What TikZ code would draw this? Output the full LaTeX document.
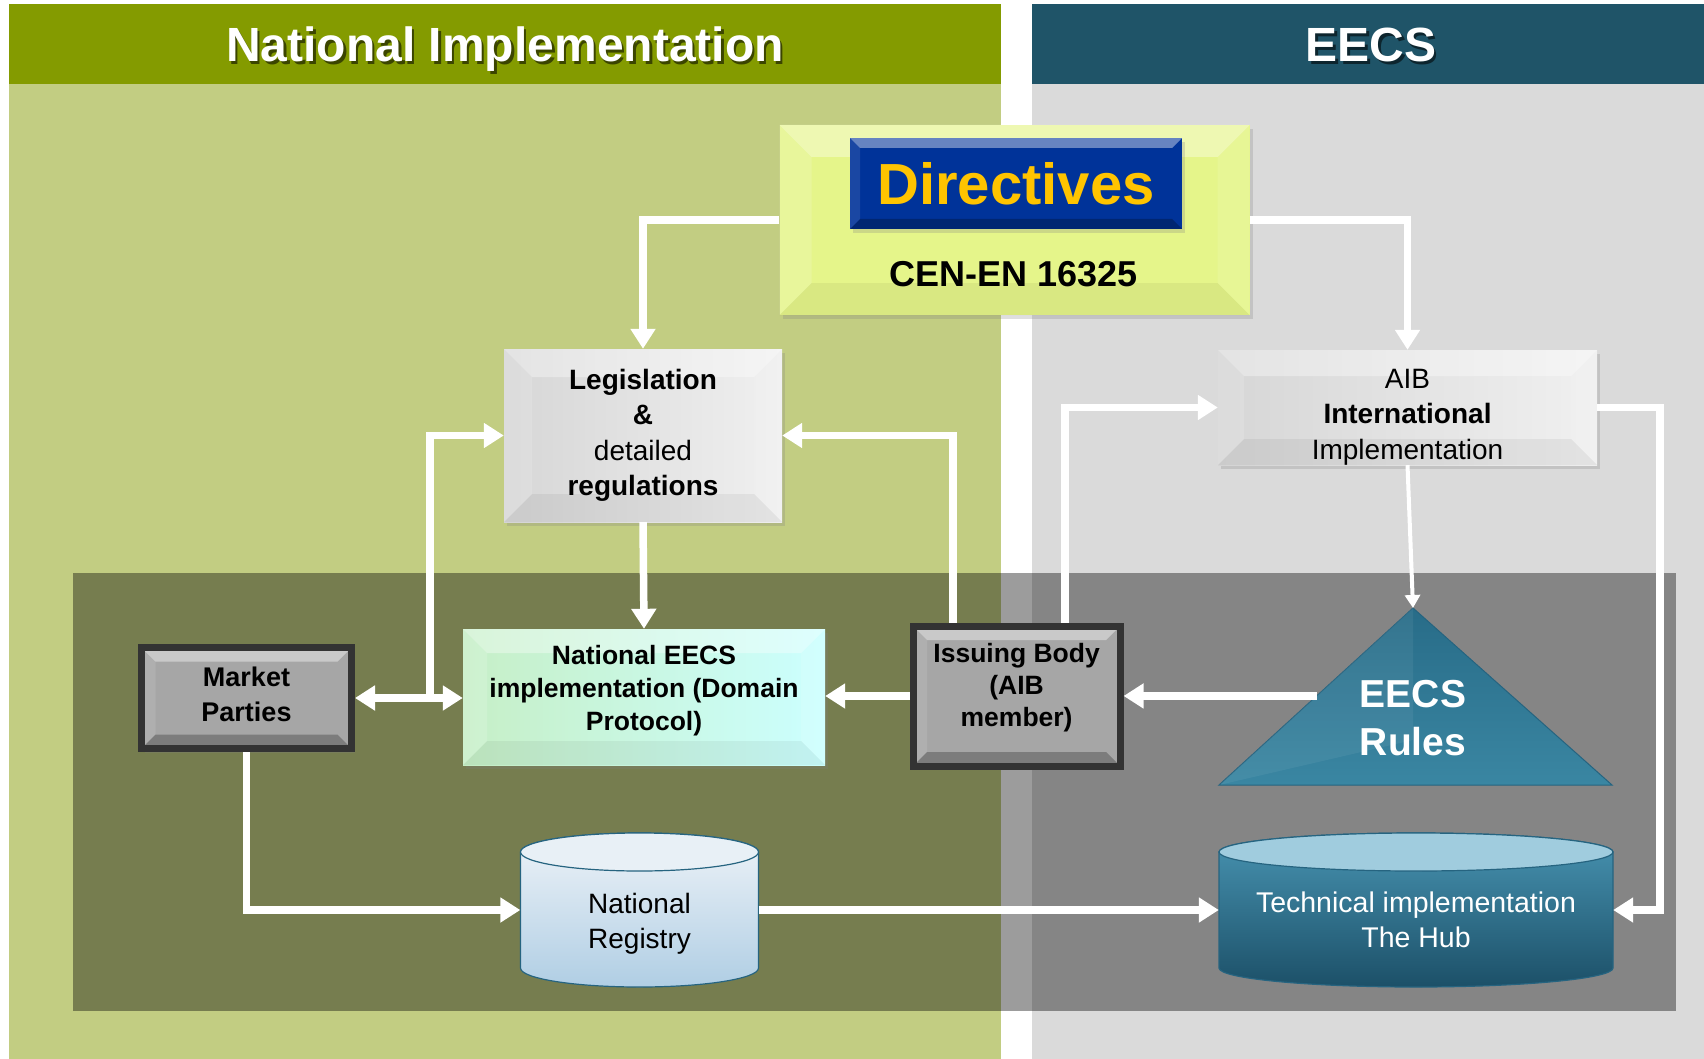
\documentclass[tikz,border=0pt]{standalone}
\usepackage{fontspec}
\setmainfont{Liberation Sans}
\usetikzlibrary{arrows.meta,shadows,calc}
\definecolor{hdrgreen}{RGB}{132,155,0}
\definecolor{lgreen}{RGB}{194,205,130}
\definecolor{hdrteal}{RGB}{31,84,104}
\definecolor{lgrey}{RGB}{218,218,218}
\definecolor{diryel}{RGB}{229,245,138}
\definecolor{dirblue}{RGB}{0,51,153}
\definecolor{diryellow}{RGB}{255,196,0}
\definecolor{mgrey}{RGB}{166,166,166}
\definecolor{dkborder}{RGB}{51,51,51}
\definecolor{natgreen}{RGB}{198,239,198}
\definecolor{natcyan}{RGB}{204,255,255}
\definecolor{tealA}{RGB}{40,108,136}
\definecolor{tealB}{RGB}{58,134,162}
\definecolor{tealline}{RGB}{38,100,128}
\definecolor{regtop}{RGB}{238,243,248}
\definecolor{regbot}{RGB}{176,206,228}
\definecolor{regcap}{RGB}{232,240,246}
\definecolor{hubtop}{RGB}{72,148,178}
\definecolor{hubbot}{RGB}{28,80,104}
\definecolor{hubcap}{RGB}{160,204,222}
\definecolor{lgA}{RGB}{214,214,214}
\definecolor{lgB}{RGB}{240,240,240}
\begin{document}
\begin{tikzpicture}[x=1pt,y=-1pt,
  >={Triangle[width=24pt,length=20pt]},
  arr/.style={draw=white,line width=7.5pt},
  thinarr/.style={draw=white,line width=4pt,-{Triangle[width=15pt,length=13pt]}},
  box/.style={rectangle,inner sep=0pt,align=center,text=black},
  shad/.style={drop shadow={opacity=.25,shadow xshift=3pt,shadow yshift=-4pt}},
  bvtop/.initial=.35, bvleft/.initial=.15, bvbot/.initial=.05, bvright/.initial=.10,
  bevel/.style={path picture={
    \coordinate (bvnw) at (path picture bounding box.north west);
    \coordinate (bvne) at (path picture bounding box.north east);
    \coordinate (bvsw) at (path picture bounding box.south west);
    \coordinate (bvse) at (path picture bounding box.south east);
    \fill[white,opacity=\pgfkeysvalueof{/tikz/bvtop}] (bvnw) -- (bvne) -- ([xshift=-#1,yshift=-#1]bvne) -- ([xshift=#1,yshift=-#1]bvnw) -- cycle;
    \fill[white,opacity=\pgfkeysvalueof{/tikz/bvleft}] (bvnw) -- (bvsw) -- ([xshift=#1,yshift=#1]bvsw) -- ([xshift=#1,yshift=-#1]bvnw) -- cycle;
    \fill[black,opacity=\pgfkeysvalueof{/tikz/bvbot}] (bvsw) -- (bvse) -- ([xshift=-#1,yshift=#1]bvse) -- ([xshift=#1,yshift=#1]bvsw) -- cycle;
    \fill[white,opacity=\pgfkeysvalueof{/tikz/bvright}] (bvne) -- (bvse) -- ([xshift=-#1,yshift=#1]bvse) -- ([xshift=-#1,yshift=-#1]bvne) -- cycle;
  }},
  strongbv/.style={bvtop=.4,bvleft=.1,bvbot=.25,bvright=0},
  hdr/.style={font=\fontsize{48}{50}\selectfont\bfseries},
  bodyb/.style={font=\fontsize{27}{35}\selectfont\bfseries},
]
\useasboundingbox (0,0) rectangle (1704,1059);
\fill[white] (0,0) rectangle (1704,1059);
% panels
\fill[lgreen] (9,4) rectangle (1001,1059);
\fill[hdrgreen] (9,4) rectangle (1001,84);
\fill[lgrey] (1032,4) rectangle (1704,1059);
\fill[hdrteal] (1032,4) rectangle (1704,84);
\fill[black,opacity=.39] (73,573) rectangle (1676,1011);
% headers
\node[hdr,text=black,opacity=.55] (hns) at (507.5,52.5) {National Implementation};
\node[hdr,text=white] (hn) at (505,49.5) {National Implementation};
\node[hdr,text=black,opacity=.55] (hes) at (1373.5,47.5) {EECS};
\node[hdr,text=white] (he) at (1371,44.5) {EECS};
% Directives
\node[box,shad,bevel=32pt,fill=diryel,minimum width=470pt,minimum height=190pt] (dir) at (1014.5,220) {};
\node[box,shad,strongbv,bevel=10pt,fill=dirblue,minimum width=332pt,minimum height=91pt,
  font=\fontsize{58}{60}\selectfont\bfseries,text=diryellow] (dirt) at (1016,183.5) {Directives};
\node[box,font=\fontsize{36}{40}\selectfont\bfseries] (cen) at (1014,274) {CEN-EN 16325};
% Legislation
\node[box,shad,bevel=28pt,left color=lgA,right color=lgB,minimum width=278pt,minimum height=173pt,
  font=\fontsize{28}{35.5}\selectfont] (leg) at (643,435.5)
  {\textbf{Legislation}\\\textbf{\&}\\detailed\\\textbf{regulations}};
% AIB
\node[box,shad,bevel=26pt,left color=lgA,right color=lgB,minimum width=379pt,minimum height=115pt,
  font=\fontsize{28}{35.5}\selectfont] (aib) at (1407.5,407.5)
  {\rule{0pt}{38pt}AIB\\\textbf{International}\\Implementation};
% Market parties
\node[box,shad,strongbv,bevel=14pt,fill=mgrey,draw=dkborder,line width=7pt,minimum width=210pt,minimum height=101pt,bodyb] (mp) at (246.5,698)
  {Market\\Parties\rule[-8pt]{0pt}{8pt}};
% National EECS
\node[box,shad,bevel=24pt,left color=natgreen,right color=natcyan,minimum width=362pt,minimum height=136pt,
  font=\fontsize{26.5}{33}\selectfont\bfseries] (nat) at (644,697)
  {National EECS\\implementation (Domain\\Protocol)\rule[-18pt]{0pt}{18pt}};
% Issuing body
\node[box,shad,strongbv,bevel=14pt,fill=mgrey,draw=dkborder,line width=7pt,minimum width=207pt,minimum height=140pt,
  font=\fontsize{26.5}{32}\selectfont\bfseries] (ib) at (1016.6,696)
  {Issuing Body\\(AIB\\member)\rule[-22pt]{0pt}{22pt}};
% EECS Rules triangle
\coordinate (rtop) at (1413,608);
\coordinate (rbl) at (1219,785);
\coordinate (rbr) at (1612,785);
\shade[top color=tealA,bottom color=tealB,draw=tealline,line width=1pt] (rtop) -- (rbr) -- (rbl) -- cycle;
\fill[white,opacity=.06] (rtop) -- (1413,740) -- (rbl) -- cycle;
\node[box,text=white,font=\fontsize{39}{48}\selectfont\bfseries] (rules) at (1413,718) {EECS\\Rules};
\coordinate (rlft) at ($(rtop)!0.497!(rbl)$);
% National Registry cylinder
\shade[top color=regtop,bottom color=regbot,draw=tealline,line width=1.2pt]
  (520.5,852) -- (520.5,968) arc[start angle=180,end angle=0,x radius=119,y radius=19]
  -- (758.5,852) arc[start angle=0,end angle=-180,x radius=119,y radius=19] -- cycle;
\filldraw[fill=regcap,draw=tealline,line width=1.2pt] (639.5,852) ellipse [x radius=119,y radius=19];
\node[box,minimum width=238pt,minimum height=154pt,font=\fontsize{28}{35}\selectfont] (reg) at (639.5,910)
  {\rule{0pt}{48pt}National\\Registry};
% Hub cylinder
\shade[top color=hubtop,bottom color=hubbot,draw=tealline,line width=1.2pt]
  (1219,852) -- (1219,968) arc[start angle=180,end angle=0,x radius=197,y radius=19]
  -- (1613,852) arc[start angle=0,end angle=-180,x radius=197,y radius=19] -- cycle;
\filldraw[fill=hubcap,draw=tealline,line width=1.2pt] (1416,852) ellipse [x radius=197,y radius=19];
\node[box,text=white,minimum width=394pt,minimum height=154pt,font=\fontsize{28.5}{35}\selectfont] (hub) at (1416,910)
  {\rule{0pt}{40pt}Technical implementation\\The Hub};
% connectors
\draw[arr,->] (dir.west) -| (leg.north);
\draw[arr,->] (dir.east) -| (aib.north);
\draw[arr,->] (leg.south) -- (nat.north);
\draw[arr,->] ([xshift=-63.6pt]ib.north) |- (leg.east);
\draw[arr,->] ([xshift=48.4pt]ib.north) |- (aib.west);
\draw[thinarr] (aib.south) -- (rtop);
\draw[arr,->] (aib.east) -- ++(63,0) |- (hub.east);
\draw[arr,->] (rlft) -- (rlft -| ib.east);
\draw[arr,->] (ib.west) -- (ib.west -| nat.east);
\draw[arr,<->] (mp.east) -- (mp.east -| nat.west);
\draw[arr,->] ([xshift=75pt]mp.east) |- (leg.west);
\draw[arr,->] (mp.south) |- (reg.west);
\draw[arr,->] (reg.east) -- (hub.west);
\end{tikzpicture}
\end{document}
